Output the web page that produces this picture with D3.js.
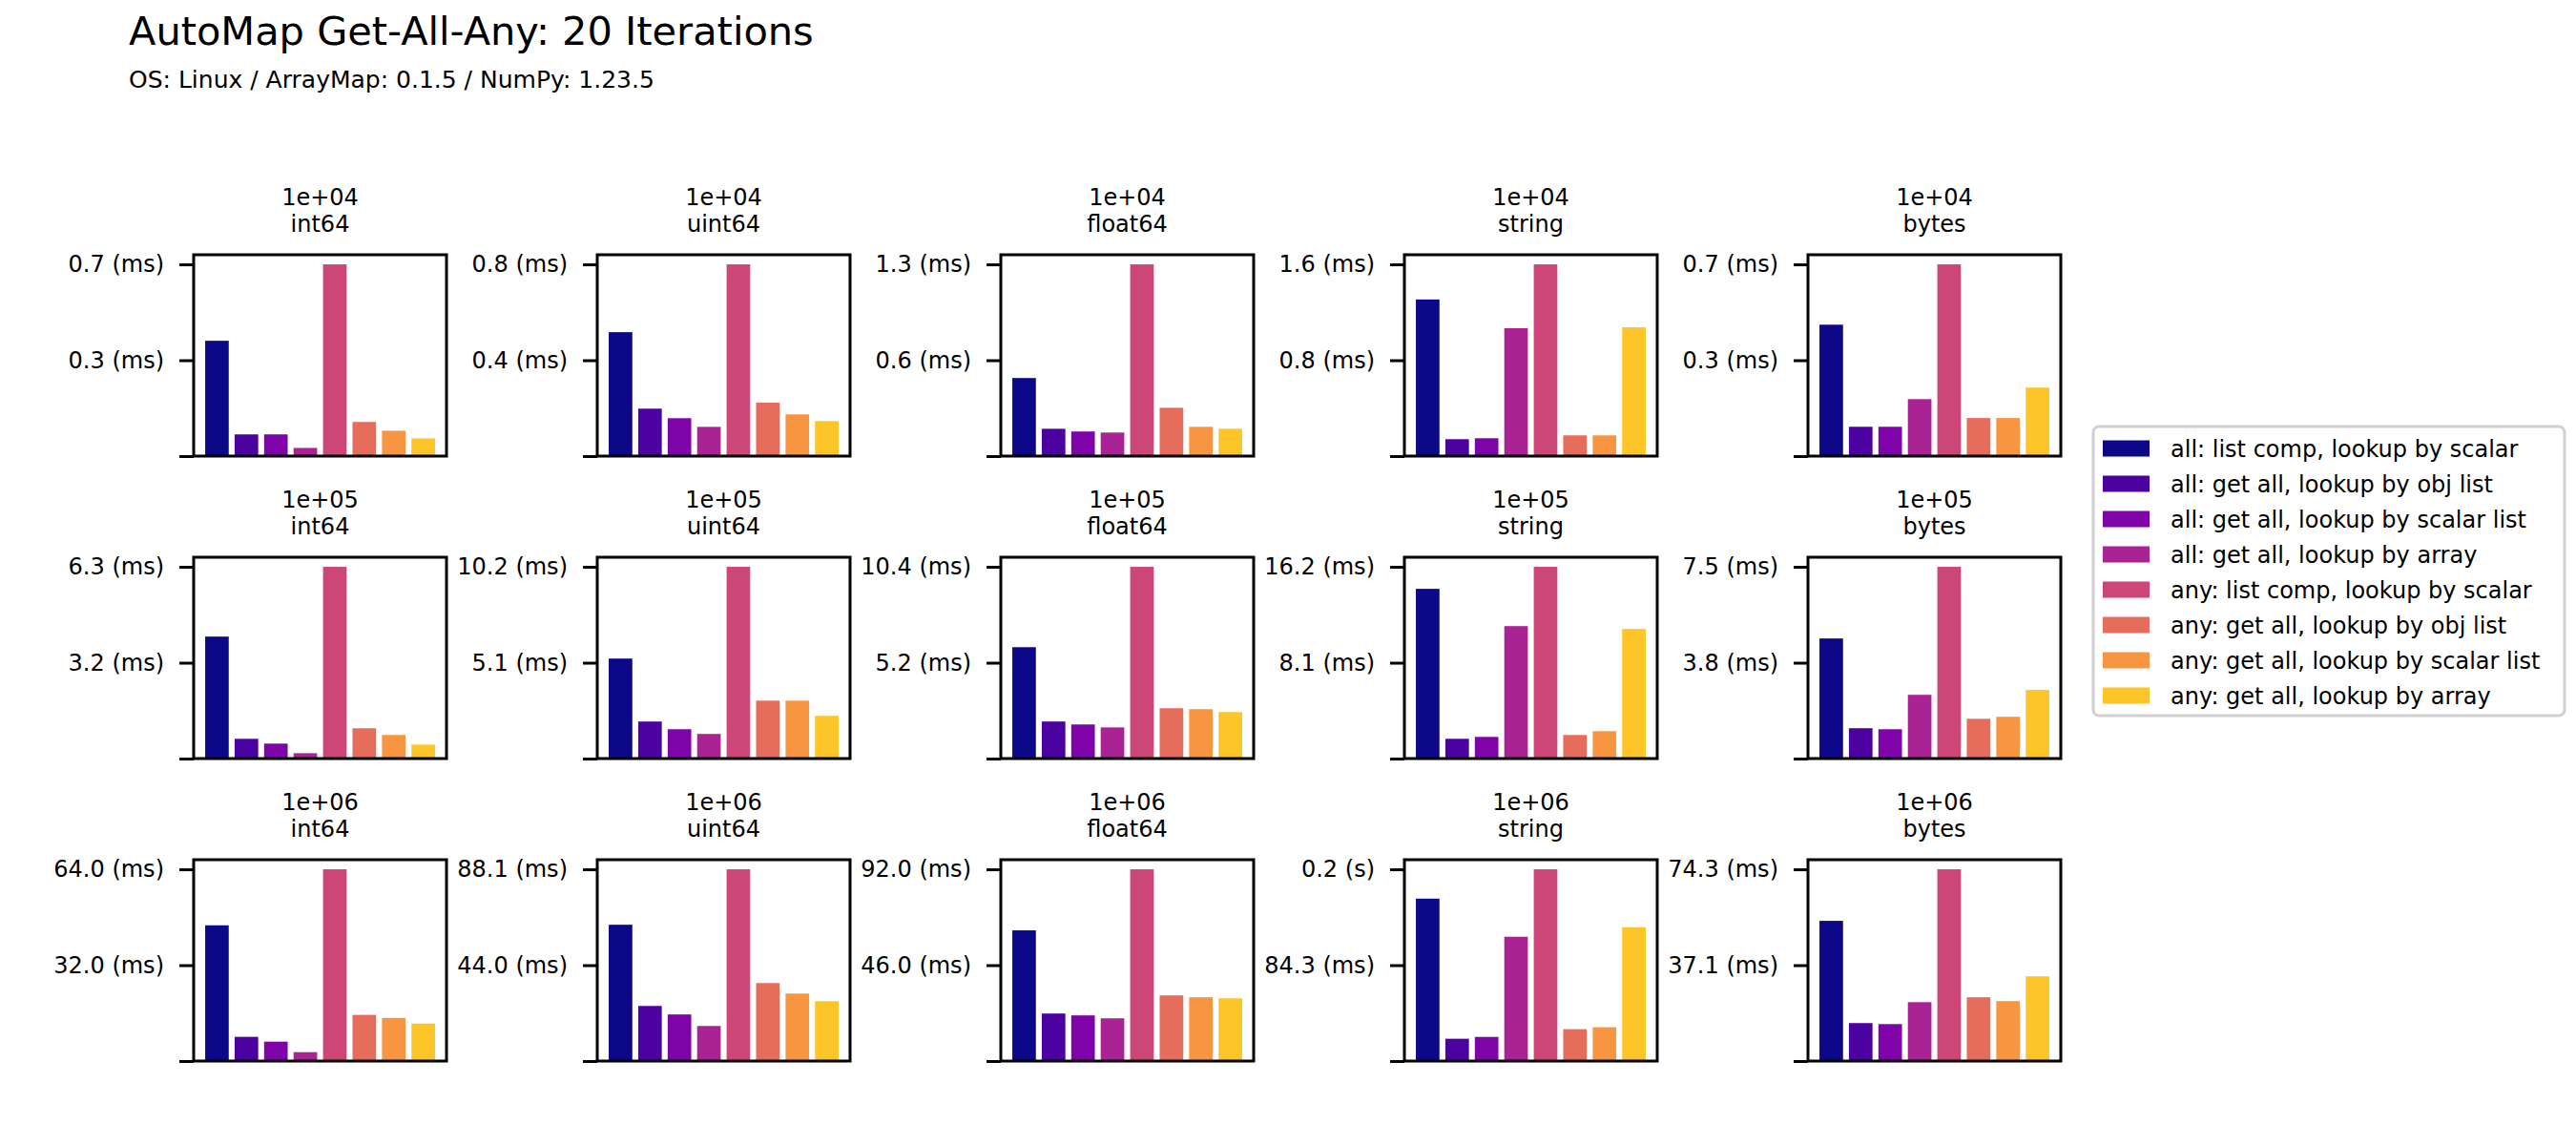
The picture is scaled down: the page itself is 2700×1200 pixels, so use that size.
<!DOCTYPE html>
<html>
<head>
<meta charset="utf-8">
<script src="https://cdn.jsdelivr.net/npm/d3@7"></script>
<style>
  body { margin: 0; background: #fff; }
  text { font-family: "DejaVu Sans", sans-serif; fill: #000; }
</style>
</head>
<body>
<div id="chart"></div>
<script>
const width = 2700;
const height = 1200;

const sizes = ["1e+04", "1e+05", "1e+06"];
const dtypes = ["int64", "uint64", "float64", "string", "bytes"];
const seriesNames = [
  "all: list comp, lookup by scalar",
  "all: get all, lookup by obj list",
  "all: get all, lookup by scalar list",
  "all: get all, lookup by array",
  "any: list comp, lookup by scalar",
  "any: get all, lookup by obj list",
  "any: get all, lookup by scalar list",
  "any: get all, lookup by array"
];

// durations in ms, one row of 8 per dtype
const values1e4 = [
  [0.409, 0.077, 0.077, 0.029, 0.68, 0.121, 0.090, 0.063],
  [0.517, 0.198, 0.158, 0.122, 0.80, 0.223, 0.174, 0.146],
  [0.517, 0.181, 0.163, 0.156, 1.27, 0.320, 0.194, 0.181],
  [1.307, 0.141, 0.149, 1.067, 1.60, 0.173, 0.173, 1.075],
  [0.466, 0.104, 0.104, 0.202, 0.68, 0.135, 0.135, 0.243]
];
const values1e5 = [
  [4.02, 0.651, 0.493, 0.177, 6.32, 0.998, 0.777, 0.461],
  [5.32, 1.97, 1.56, 1.31, 10.2, 3.08, 3.08, 2.27],
  [6.04, 2.01, 1.85, 1.69, 10.4, 2.73, 2.68, 2.52],
  [14.34, 1.67, 1.83, 11.19, 16.2, 1.99, 2.31, 10.95],
  [4.71, 1.19, 1.15, 2.50, 7.52, 1.56, 1.64, 2.69]
];
const values1e6 = [
  [45.3, 8.07, 6.47, 2.96, 64.0, 15.4, 14.4, 12.5],
  [62.6, 25.3, 21.4, 16.1, 88.07, 35.8, 31.0, 27.5],
  [62.7, 22.8, 21.9, 20.5, 92.0, 31.5, 30.6, 30.1],
  [142.8, 19.6, 21.2, 109.3, 168.6, 28.0, 29.7, 117.7],
  [54.3, 14.7, 14.3, 22.8, 74.27, 24.7, 23.2, 32.8]
];
const values = [values1e4, values1e5, values1e6];

const topTickLabels = [
  ["0.7 (ms)", "0.8 (ms)", "1.3 (ms)", "1.6 (ms)", "0.7 (ms)"],
  ["6.3 (ms)", "10.2 (ms)", "10.4 (ms)", "16.2 (ms)", "7.5 (ms)"],
  ["64.0 (ms)", "88.1 (ms)", "92.0 (ms)", "0.2 (s)", "74.3 (ms)"]
];
const midTickLabels = [
  ["0.3 (ms)", "0.4 (ms)", "0.6 (ms)", "0.8 (ms)", "0.3 (ms)"],
  ["3.2 (ms)", "5.1 (ms)", "5.2 (ms)", "8.1 (ms)", "3.8 (ms)"],
  ["32.0 (ms)", "44.0 (ms)", "46.0 (ms)", "84.3 (ms)", "37.1 (ms)"]
];

const colors = seriesNames.map((d, i) => d3.interpolatePlasma(i / 8));

const boxW = 265, boxH = 211;
const colLeft = [203, 626, 1049, 1472, 1895];
const rowTop = [267, 584, 901];

const svg = d3.select("#chart")
  .append("svg")
  .attr("width", width)
  .attr("height", height);

svg.append("rect").attr("width", width).attr("height", height).attr("fill", "#fff");

svg.append("text")
  .attr("x", 135).attr("y", 47)
  .style("font-size", "41.5px")
  .text("AutoMap Get-All-Any: 20 Iterations");

svg.append("text")
  .attr("x", 135).attr("y", 92)
  .style("font-size", "25px")
  .text("OS: Linux / ArrayMap: 0.1.5 / NumPy: 1.23.5");

sizes.forEach((size, r) => {
  dtypes.forEach((dtype, c) => {
    const vals = values[r][c];
    const x0 = colLeft[c], y0 = rowTop[r];
    const g = svg.append("g").attr("transform", `translate(${x0},${y0})`);

    const x = d3.scaleBand()
      .domain(d3.range(vals.length))
      .range([0, boxW])
      .paddingInner(0.2)
      .paddingOuter(0.39);

    const vmax = d3.max(vals);
    const y = d3.scaleLinear()
      .domain([0, vmax * 1.05])
      .range([boxH, 0]);

    g.selectAll(".bar")
      .data(vals)
      .enter()
      .append("rect")
      .attr("class", "bar")
      .attr("x", (d, i) => x(i))
      .attr("width", x.bandwidth())
      .attr("y", (d) => y(d))
      .attr("height", (d) => y(0) - y(d))
      .attr("fill", (d, i) => colors[i]);

    const labels = ["", midTickLabels[r][c], topTickLabels[r][c]];
    const axis = d3.axisLeft(y)
      .tickValues([0, vmax / 2, vmax])
      .tickFormat((d, i) => labels[i])
      .tickSize(15)
      .tickPadding(16);

    const ag = g.append("g").call(axis);
    ag.select(".domain").remove();
    ag.selectAll(".tick line").attr("stroke", "#000").attr("stroke-width", 3);
    ag.selectAll(".tick text")
      .style("font-size", "24px")
      .style("font-family", "DejaVu Sans")
      .attr("fill", "#000");

    g.append("rect")
      .attr("width", boxW)
      .attr("height", boxH)
      .attr("fill", "none")
      .attr("stroke", "#000")
      .attr("stroke-width", 3);

    g.append("text")
      .attr("x", boxW / 2).attr("y", -52)
      .attr("text-anchor", "middle")
      .style("font-size", "24px")
      .text(size);
    g.append("text")
      .attr("x", boxW / 2).attr("y", -24)
      .attr("text-anchor", "middle")
      .style("font-size", "24px")
      .text(dtype);
  });
});

// legend
const legend = svg.append("g").attr("transform", "translate(2194,447)");
legend.append("rect")
  .attr("width", 494)
  .attr("height", 303)
  .attr("rx", 6)
  .attr("fill", "#fff")
  .attr("stroke", "#d0d0d0")
  .attr("stroke-width", 3);

const items = legend.selectAll(".item")
  .data(seriesNames)
  .enter()
  .append("g")
  .attr("class", "item")
  .attr("transform", (d, i) => `translate(0,${23 + i * 37})`);

items.append("rect")
  .attr("x", 10).attr("y", -8.5)
  .attr("width", 49).attr("height", 17)
  .attr("fill", (d, i) => colors[i]);

items.append("text")
  .attr("x", 81).attr("y", 8.5)
  .style("font-size", "24px")
  .text((d) => d);
</script>
</body>
</html>
